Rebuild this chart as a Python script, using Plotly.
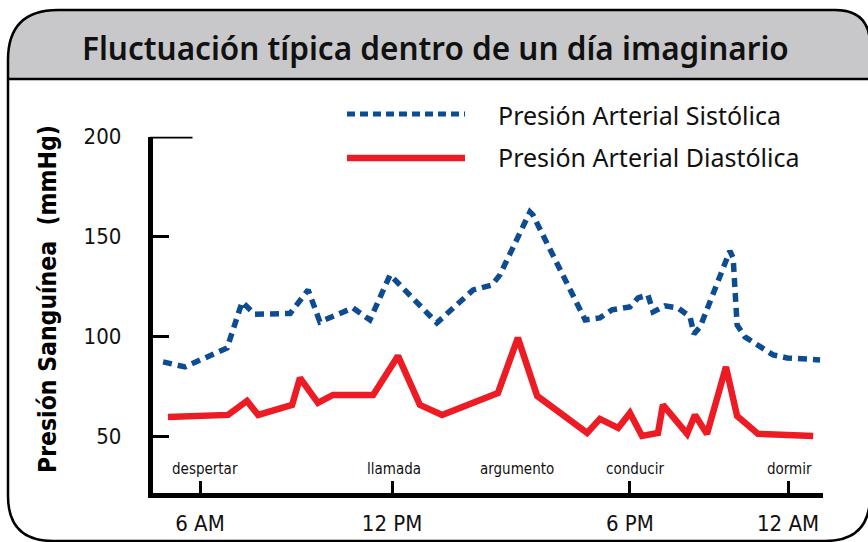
import plotly.graph_objects as go

# ---- data -------------------------------------------------------------
# time of day in hours along the horizontal axis
sys_t = [4.87, 5.54, 6.83, 7.29, 7.68, 8.76, 9.31, 9.67, 10.68, 11.20, 11.82,
         13.25, 14.36, 14.94, 15.18, 16.10, 16.19, 17.79, 18.24, 18.61, 19.16,
         19.41, 19.71, 19.87, 20.23, 20.63, 21.00, 21.12, 21.31, 22.22, 22.32,
         22.44, 22.68, 23.54, 23.97, 24.98]
sys_v = [87.4, 84.9, 94.4, 117.4, 111.2, 111.6, 123.4, 107.4, 114.4, 108.4, 130.9,
         106.9, 123.4, 125.9, 130.9, 162.4, 160.9, 108.4, 109.4, 113.4, 114.9,
         119.4, 120.9, 112.4, 115.4, 114.4, 109.9, 101.4, 104.9, 142.9, 139.4,
         105.9, 99.9, 90.9, 89.4, 88.4]

dia_t = [5.02, 6.86, 7.44, 7.78, 8.82, 9.06, 9.61, 10.07, 11.30, 12.06, 12.73,
         13.41, 15.12, 15.73, 16.32, 17.85, 18.24, 18.80, 19.16, 19.53, 20.02,
         20.17, 20.91, 21.15, 21.52, 22.10, 22.44, 23.08, 24.77]
dia_v = [59.9, 60.9, 67.9, 60.9, 65.9, 79.4, 66.9, 70.9, 70.9, 90.4, 65.9,
         60.9, 71.9, 99.4, 70.4, 51.9, 58.9, 54.4, 61.9, 50.4, 51.9,
         65.9, 51.4, 60.9, 51.4, 84.9, 60.4, 51.4, 50.4]

tick_t = [6, 11.88, 19.16, 24]
tick_labels = ["6 AM", "12 PM", "6 PM", "12 AM"]

event_t = [6.15, 11.94, 15.70, 19.32, 24.03]
event_labels = ["despertar", "llamada", "argumento", "conducir", "dormir"]

y_ticks = [50, 100, 150, 200]

title_text = "Fluctuación típica dentro de un día imaginario"
y_title = "Presión Sanguínea  (mmHg)"
name_sys = "Presión Arterial Sistólica"
name_dia = "Presión Arterial Diastólica"

# ---- styling ----------------------------------------------------------
W, H = 868, 542
BLUE = "#0E4C92"
RED = "#ED1C24"
GREY = "#C8C8CA"
NARROW = "DejaVu Sans Condensed, DejaVu Sans, sans-serif"
SANS = "Noto Sans, Open Sans, sans-serif"


def px(x):
    return x / W


def py(y):
    return 1 - y / H


fig = go.Figure()
fig.add_trace(go.Scatter(x=dia_t, y=dia_v, mode="lines", name=name_dia,
                         line=dict(color=RED, width=6.5), showlegend=False))
fig.add_trace(go.Scatter(x=sys_t, y=sys_v, mode="lines", name=name_sys,
                         line=dict(color=BLUE, width=5.5, dash="9px,6px"),
                         showlegend=False))

# rounded frame with grey header band
L, R, T, B = 8, 870, 10, 541
rtl, rtr, rb = 50, 35, 45
HB = 79


def frame_path(bottom_y, closed_bottom=True):
    p = (f"M {px(L)},{py(bottom_y if not closed_bottom else B - rb)} "
         f"L {px(L)},{py(T + rtl)} Q {px(L)},{py(T)} {px(L + rtl)},{py(T)} "
         f"L {px(R - rtr)},{py(T)} Q {px(R)},{py(T)} {px(R)},{py(T + rtr)} ")
    if closed_bottom:
        p += (f"L {px(R)},{py(B - rb)} Q {px(R)},{py(B)} {px(R - rb)},{py(B)} "
              f"L {px(L + rb)},{py(B)} Q {px(L)},{py(B)} {px(L)},{py(B - rb)} Z")
    else:
        p += f"L {px(R)},{py(bottom_y)} Z"
    return p


shapes = [
    dict(type="path", xref="paper", yref="paper", path=frame_path(HB, False),
         fillcolor=GREY, line=dict(width=0), layer="below"),
    dict(type="line", xref="paper", yref="paper", x0=px(L), x1=px(R), y0=py(HB), y1=py(HB),
         line=dict(color="black", width=2.5)),
    dict(type="path", xref="paper", yref="paper", path=frame_path(B),
         line=dict(color="black", width=2.5)),
    # long top tick at 200
    dict(type="line", xref="x domain", yref="y", x0=-0.004, x1=40 / 670, y0=200, y1=200,
         line=dict(color="black", width=3.5)),
    # legend keys
    dict(type="line", xref="paper", yref="paper", x0=px(347), x1=px(465), y0=py(114), y1=py(114),
         line=dict(color=BLUE, width=5, dash="8px,5px")),
    dict(type="line", xref="paper", yref="paper", x0=px(347), x1=px(465), y0=py(158), y1=py(158),
         line=dict(color=RED, width=6.5)),
]

annotations = [
    dict(text=title_text, xref="paper", yref="paper", x=px(435), y=py(47),
         xanchor="center", yanchor="middle", showarrow=False,
         font=dict(family=SANS, size=31.5, color="#111111", weight=600)),
    dict(text=y_title, xref="paper", yref="paper", x=px(47), y=py(299),
         xanchor="center", yanchor="middle", showarrow=False, textangle=-90,
         font=dict(family=NARROW, size=24.5, color="black", weight="bold")),
    dict(text=name_sys, xref="paper", yref="paper", x=px(496), y=py(115),
         xanchor="left", yanchor="middle", showarrow=False,
         font=dict(family=SANS, size=25, color="#111111")),
    dict(text=name_dia, xref="paper", yref="paper", x=px(496), y=py(157),
         xanchor="left", yanchor="middle", showarrow=False,
         font=dict(family=SANS, size=25, color="#111111")),
]
for t, lab in zip(event_t, event_labels):
    annotations.append(dict(text=lab, x=t, y=34, xref="x", yref="y",
                            xanchor="center", yanchor="middle", showarrow=False,
                            font=dict(family=NARROW, size=15, color="#111111")))

fig.update_layout(
    width=W, height=H,
    margin=dict(l=0, r=0, t=0, b=0, pad=0, autoexpand=False),
    paper_bgcolor="white", plot_bgcolor="white",
    shapes=shapes, annotations=annotations,
    xaxis=dict(domain=[px(152.5), px(823)], range=[4.546, 25.07],
               tickvals=tick_t, ticktext=tick_labels,
               ticks="inside", ticklen=12, tickwidth=3, tickcolor="black",
               showline=True, linewidth=4.5, linecolor="black",
               showgrid=False, zeroline=False, ticklabelstandoff=7,
               automargin=False,
               tickfont=dict(family=NARROW, size=22, color="#111111")),
    yaxis=dict(domain=[py(492.5), py(136.7)], range=[22.1, 200],
               tickvals=y_ticks, ticktext=[str(v) for v in y_ticks],
               ticks="inside", ticklen=17, tickwidth=3, tickcolor="black",
               showline=True, linewidth=4.5, linecolor="black",
               showgrid=False, zeroline=False, ticklabelstandoff=22,
               automargin=False,
               tickfont=dict(family=NARROW, size=22, color="#111111")),
)

fig.write_html("out.html")
